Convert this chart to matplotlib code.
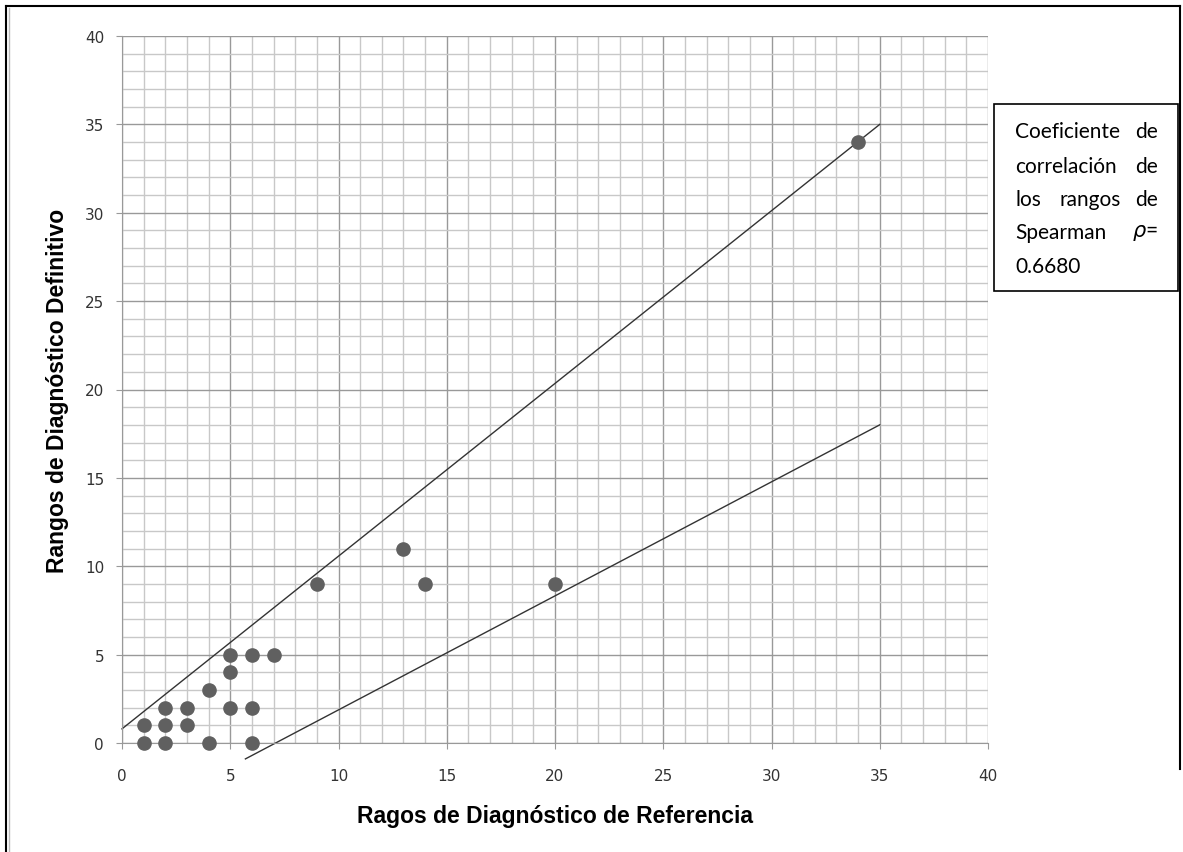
import matplotlib
matplotlib.use("Agg")
import matplotlib.pyplot as plt
from matplotlib.lines import Line2D
from matplotlib.patches import Rectangle
import numpy as np

# Data
ref_ranks = [1, 1, 2, 2, 2, 3, 3, 4, 4, 5, 5, 5, 6, 6, 6, 7, 9, 13, 14, 20, 34]
def_ranks = [0, 1, 0, 1, 2, 1, 2, 0, 3, 2, 4, 5, 0, 2, 5, 5, 9, 11, 9, 9, 34]
upper_x = [0, 35]
upper_y = [0.8, 35]
lower_x = [5.7, 35]
lower_y = [-0.9, 18]
x_label = "Ragos de Diagnóstico de Referencia"
y_label = "Rangos de Diagnóstico Definitivo"
box_lines = [("Coeficiente", "", "de"), ("correlación", "", "de"),
             ("los", "rangos", "de"), ("Spearman", "", r"$\rho$="), ("0.6680", "", "")]

W, H = 1183, 853
fig = plt.figure(figsize=(W / 100, H / 100), dpi=100)
ax = fig.add_axes([122 / W, 1 - 744 / H, (988 - 122) / W, (744 - 37) / H])

ax.set_xlim(0, 40)
ax.set_ylim(0, 40)
ax.set_xticks(np.arange(0, 41, 5))
ax.set_yticks(np.arange(0, 41, 5))
ax.set_xticks(np.arange(0, 41, 1), minor=True)
ax.set_yticks(np.arange(0, 41, 1), minor=True)
ax.grid(which="minor", color="#c8c8c8", linewidth=1.0)
ax.grid(which="major", color="#999999", linewidth=1.0)
ax.set_axisbelow(True)
ax.tick_params(which="minor", length=0)
ax.tick_params(which="major", length=4.3, color="#999999", labelsize=11, labelcolor="#333333")
ax.tick_params(axis="x", pad=14)
ax.tick_params(axis="y", pad=8.6)
for s in ["top", "right"]:
    ax.spines[s].set_visible(False)
for s in ["left", "bottom"]:
    ax.spines[s].set_color("#999999")

ax.plot(upper_x, upper_y, color="#333333", linewidth=1.0, clip_on=False)
ax.plot(lower_x, lower_y, color="#333333", linewidth=1.0, clip_on=False)
ax.plot(ref_ranks, def_ranks, "o", color="#606060", markersize=9.5, clip_on=False, zorder=5)

fig.text(555 / W, 1 - 817 / H, x_label, fontsize=16.5, fontweight="bold",
         family="Liberation Sans", ha="center", va="center")
fig.text(58 / W, 1 - 391 / H, y_label, fontsize=16.5, fontweight="bold",
         family="Liberation Sans", ha="center", va="center", rotation=90)

# Outer frame
def fline(x0, y0, x1, y1, lw=1.5, color="black"):
    fig.lines.append(Line2D([x0 / W, x1 / W], [1 - y0 / H, 1 - y1 / H],
                            transform=fig.transFigure, color=color, linewidth=lw))
fline(6, 7, 1180, 7)
fline(6, 7, 6, 853)
fline(8.5, 9, 8.5, 853, lw=1.0, color="#bbbbbb")
fline(1180, 7, 1180, 770)

# Text box
fig.patches.append(Rectangle((994 / W, 1 - 292 / H), (1178 - 994) / W, (292 - 105) / H,
                             transform=fig.transFigure, fill=False, edgecolor="black", linewidth=1.2))
ys = [132, 167, 200, 233, 267]
for (l, m, r), yp in zip(box_lines, ys):
    yf = 1 - yp / H
    kw = dict(fontsize=15, family=["Lato", "DejaVu Sans"], va="center", transform=fig.transFigure)
    if l:
        fig.text(1015 / W, yf, l, ha="left", **kw)
    if m:
        fig.text(1090 / W, yf, m, ha="center", **kw)
    if r:
        fig.text(1158 / W, yf, r, ha="right", **kw)

fig.savefig("out.png", dpi=100)
